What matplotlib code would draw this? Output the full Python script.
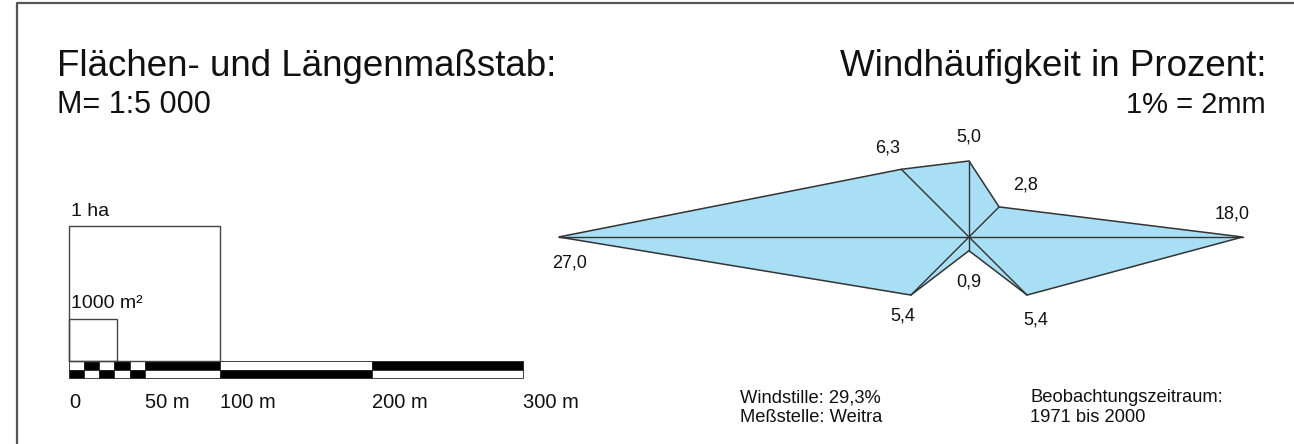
import numpy as np
import matplotlib
matplotlib.use("Agg")
import matplotlib.pyplot as plt
from matplotlib.patches import Rectangle, Polygon
from matplotlib.lines import Line2D

plt.rcParams["font.family"] = ["Liberation Sans", "DejaVu Sans"]

# --- data --------------------------------------------------------------
# scale bar (metres) and the two reference areas
BAR_EDGES = [0, 10, 20, 30, 40, 50, 100, 200, 300]
TICKS = [0, 50, 100, 200, 300]
TICK_LABELS = ["0", "50 m", "100 m", "200 m", "300 m"]
AREAS = [10000, 1000]              # m²
AREA_LABELS = ["1 ha", "1000 m²"]

# wind frequency (%) for N, NE, E, SE, S, SW, W, NW
DIRECTIONS = ["N", "NE", "E", "SE", "S", "SW", "W", "NW"]
WIND = [5.0, 2.8, 18.0, 5.4, 0.9, 5.4, 27.0, 6.3]
WIND_LABELS = ["5,0", "2,8", "18,0", "5,4", "0,9", "5,4", "27,0", "6,3"]

INK = "#111111"
EDGE = "#333333"
FILL = "#a9dff5"
W_PX, H_PX = 1294, 444


def fx(px):
    return px / W_PX


def fy(py):
    return 1 - py / H_PX


fig = plt.figure(figsize=(W_PX / 100, H_PX / 100), dpi=100)
fig.patch.set_facecolor("white")

# frame (left + top only, image is cropped)
fig.add_artist(Line2D([fx(17), fx(17), 1], [0, fy(3), fy(3)], color="#555555", lw=1.6))

# titles
fig.text(fx(57), fy(66), "Flächen- und Längenmaßstab:", fontsize=26.5, color=INK, va="center")
fig.text(fx(57), fy(105), "M= 1:5 000", fontsize=22, color=INK, va="center")
fig.text(fx(1266), fy(66), "Windhäufigkeit in Prozent:", fontsize=26.5, color=INK, va="center", ha="right")
fig.text(fx(1266), fy(105), "1% = 2mm", fontsize=21, color=INK, va="center", ha="right")

# --- scale bar -----------------------------------------------------------
k = 1.35                         # px per metre vertically
row = 8.3 / k                    # one bar row in metres
ax_s = fig.add_axes([fx(69), fy(378), 454 / W_PX, 178 / H_PX])
ax_s.set_xlim(0, 300)
ax_s.set_ylim(-2 * row, 161 / k)
ax_s.axis("off")

lefts = np.array(BAR_EDGES[:-1])
widths = np.diff(BAR_EDGES)
top_cols = ["white" if i % 2 == 0 else "black" for i in range(len(widths))]
bot_cols = ["black" if i % 2 == 0 else "white" for i in range(len(widths))]
ax_s.bar(lefts, row, width=widths, bottom=-row, align="edge", color=top_cols,
         edgecolor="#222222", linewidth=0.6, clip_on=False)
ax_s.bar(lefts, row, width=widths, bottom=-2 * row, align="edge", color=bot_cols,
         edgecolor="#222222", linewidth=0.6, clip_on=False)

for area, lab in zip(AREAS, AREA_LABELS):
    side = np.sqrt(area)
    ax_s.add_patch(Rectangle((0, 0), side, side, fill=False, edgecolor="#444444",
                             linewidth=1.0, clip_on=False))
    ax_s.annotate(lab, (0, side), xytext=(1.5, 10.5), textcoords="offset points",
                  fontsize=14, color=INK, va="center", ha="left")

for t, lab in zip(TICKS, TICK_LABELS):
    ax_s.annotate(lab, (t, -2 * row), xytext=(0, -18), textcoords="offset points",
                  fontsize=14.5, color=INK, va="center", ha="left")

# --- wind rose -------------------------------------------------------------
cx, cy, s = 969, 237, 15.2       # centre in px, px per percent
ax_w = fig.add_axes([fx(540), fy(345), 750 / W_PX, 225 / H_PX])
ax_w.set_xlim((540 - cx) / s, (1290 - cx) / s)
ax_w.set_ylim((cy - 345) / s, (cy - 120) / s)
ax_w.axis("off")

ang = np.deg2rad(np.arange(len(WIND)) * 45.0)
vals = np.array(WIND)
xs = vals * np.sin(ang)
ys = vals * np.cos(ang)
ax_w.add_patch(Polygon(np.column_stack([xs, ys]), closed=True, facecolor=FILL,
                       edgecolor=EDGE, linewidth=1.1, joinstyle="miter"))
for x, y in zip(xs, ys):
    ax_w.plot([0, x], [0, y], color=EDGE, linewidth=1.0)

# label offsets in px (right, up) relative to each tip
offs = {"N": (0, 24), "NE": (26, 22), "E": (-10, 23), "SE": (9, -25),
        "S": (0, -31), "SW": (-8, -21), "W": (11, -26), "NW": (-14, 21)}
for d, x, y, lab in zip(DIRECTIONS, xs, ys, WIND_LABELS):
    ox, oy = offs[d]
    ax_w.annotate(lab, (x, y), xytext=(ox * 0.72, oy * 0.72), textcoords="offset points",
                  fontsize=13, color=INK, ha="center", va="center")

# footnotes
fig.text(fx(740), fy(398), "Windstille: 29,3%", fontsize=13.2, color=INK, va="center")
fig.text(fx(740), fy(417), "Meßstelle: Weitra", fontsize=13.2, color=INK, va="center")
fig.text(fx(1030), fy(398), "Beobachtungszeitraum:", fontsize=13.2, color=INK, va="center")
fig.text(fx(1030), fy(417), "1971 bis 2000", fontsize=13.2, color=INK, va="center")

fig.savefig("out.png", dpi=100, facecolor="white")
